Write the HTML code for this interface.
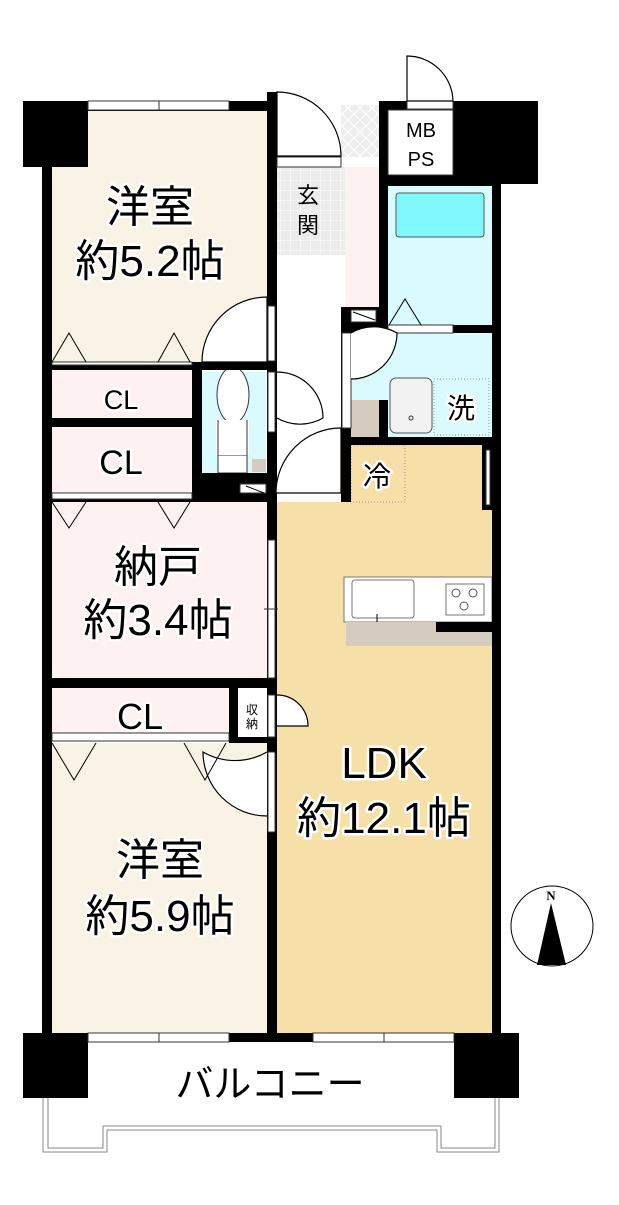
<!DOCTYPE html>
<html><head><meta charset="utf-8"><style>
html,body{margin:0;padding:0;background:#fff;}
svg{display:block}
text{font-family:"Liberation Sans","Noto Sans CJK JP",sans-serif;fill:#000;stroke:#fff;stroke-width:5px;paint-order:stroke;stroke-linejoin:round}
</style></head><body>
<svg width="619" height="1205" viewBox="0 0 619 1205" xmlns="http://www.w3.org/2000/svg">
<defs>
<pattern id="tile" width="10" height="10" patternUnits="userSpaceOnUse"><rect width="10" height="10" fill="#ececec"/><path d="M0 0H10M0 0V10" stroke="#fff" stroke-width="1"/></pattern>
<pattern id="hatch" width="12" height="12" patternUnits="userSpaceOnUse"><rect width="12" height="12" fill="#eee"/><path d="M0 0L12 12M12 0L0 12" stroke="#fff" stroke-width="1"/></pattern>
</defs>
<rect x="52" y="111" width="215" height="251" fill="#f8f3e4"/>
<rect x="52" y="370" width="140" height="48" fill="#fdf1f1"/>
<rect x="52" y="427" width="140" height="66" fill="#fdf1f1"/>
<rect x="202" y="372" width="64" height="101" fill="#d9fbfd"/>
<rect x="52" y="502" width="215" height="176" fill="#fdf1f1"/>
<rect x="52" y="688" width="177" height="45" fill="#fdf1f1"/>
<rect x="52" y="743" width="215" height="290" fill="#f8f3e4"/>
<rect x="277" y="502" width="215" height="531" fill="#f6e0a8"/>
<rect x="351" y="445" width="141" height="60" fill="#f6e0a8"/>
<rect x="351" y="445" width="54" height="57" fill="#f6e0a8" stroke="#999" stroke-dasharray="1 2" stroke-width="1"/>
<rect x="277" y="167" width="68" height="88" fill="url(#tile)"/>
<rect x="341" y="105" width="38" height="52" fill="url(#hatch)"/>
<rect x="345" y="167" width="34" height="140" fill="#fdf1f1"/>
<rect x="388" y="186" width="104" height="139" fill="#d9fbfd"/>
<rect x="396" y="193" width="88" height="44" rx="3" fill="#80f8fc" stroke="#555" stroke-width="1"/>
<rect x="351" y="333" width="141" height="104" fill="#d9fbfd"/>
<rect x="434" y="379" width="55" height="56" fill="#d9fbfd" stroke="#999" stroke-dasharray="1 2"/>
<rect x="351" y="400" width="28" height="37" fill="#d6cbbf"/>
<rect x="390" y="378" width="42" height="55" rx="6" fill="#f2f2f2" stroke="#555"/>
<circle cx="411" cy="418" r="2" fill="none" stroke="#333"/>
<rect x="344" y="577" width="148" height="45" fill="#fff" stroke="#777"/>
<rect x="352" y="580" width="62" height="38" rx="3" fill="#fff" stroke="#777"/>
<rect x="446" y="584" width="38" height="31" fill="#fff" stroke="#777"/>
<circle cx="456" cy="593" r="4" fill="none" stroke="#555"/><circle cx="473" cy="593" r="4" fill="none" stroke="#555"/><circle cx="464" cy="606" r="4" fill="none" stroke="#555"/>
<rect x="346" y="622" width="146" height="24" fill="#d6cbbf"/>
<rect x="436" y="622" width="65" height="10" fill="#000"/>
<ellipse cx="233" cy="395" rx="16" ry="28" fill="#fff" stroke="#333"/>
<rect x="218" y="455" width="29" height="18" fill="#fff" stroke="#333"/>
<rect x="216" y="420" width="33" height="35" fill="#fff" stroke="none"/>
<path d="M218 420 V455 M247 420 V455" stroke="#333"/>
<rect x="252" y="459" width="14" height="13" fill="#d6cbbf"/>
<g fill="#000">
<rect x="23" y="101" width="65" height="66"/>
<rect x="42" y="101" width="10" height="941"/>
<rect x="23" y="101" width="254" height="10"/>
<rect x="267" y="92" width="10" height="950"/>
<rect x="379" y="101" width="9" height="230"/>
<rect x="453" y="101" width="85" height="83"/>
<rect x="379" y="101" width="74" height="9"/>
<rect x="492" y="184" width="9" height="858"/>
<rect x="379" y="175" width="122" height="11"/>
<rect x="341" y="307" width="10" height="195"/>
<rect x="341" y="307" width="47" height="26"/>
<rect x="341" y="325" width="160" height="8"/>
<rect x="341" y="437" width="160" height="8"/>
<rect x="379" y="400" width="9" height="37"/>
<rect x="42" y="362" width="235" height="8"/>
<rect x="42" y="418" width="160" height="9"/>
<rect x="192" y="362" width="10" height="140"/>
<rect x="192" y="473" width="75" height="29"/>
<rect x="42" y="493" width="160" height="9"/>
<rect x="42" y="678" width="235" height="10"/>
<rect x="229" y="688" width="9" height="55"/>
<rect x="229" y="733" width="48" height="10"/>
<rect x="482" y="445" width="10" height="65"/>
<rect x="23" y="1033" width="65" height="65"/>
<rect x="454" y="1033" width="65" height="65"/>
<rect x="23" y="1033" width="496" height="9"/>
</g>
<g fill="#fff" stroke="#333" stroke-width="1">
<rect x="88" y="101" width="141" height="9"/><line x1="159" y1="101" x2="159" y2="110"/>
<rect x="88" y="1033" width="141" height="9"/><line x1="159" y1="1033" x2="159" y2="1042"/>
<rect x="313" y="1033" width="141" height="9"/><line x1="384" y1="1033" x2="384" y2="1042"/>
<rect x="277" y="157" width="64" height="10"/>
<rect x="407" y="101" width="46" height="8"/>
<rect x="388" y="110" width="65" height="65"/>
<rect x="486" y="450" width="4" height="55"/>
<rect x="268" y="540" width="7" height="138"/><line x1="264" y1="609" x2="278" y2="609"/>
<rect x="52" y="362" width="140" height="3"/>
<rect x="52" y="493" width="140" height="6"/>
<rect x="52" y="733" width="177" height="8"/>
<rect x="268" y="306" width="7" height="55"/>
<rect x="268" y="372" width="7" height="60"/>
<rect x="268" y="752" width="7" height="80"/>
<rect x="238" y="695" width="29" height="42" stroke="none"/>
<rect x="268" y="695" width="7" height="42"/>
<rect x="342" y="333" width="9" height="95"/>
<rect x="388" y="325" width="65" height="8"/>
<rect x="240" y="484" width="26" height="9"/>
<rect x="351" y="310" width="25" height="12"/>
</g>
<g fill="#fff" stroke="#000" stroke-width="1.2">
<path d="M277 92 A64 64 0 0 1 341 156 L277 156 Z"/>
<path d="M407 56 A46 46 0 0 1 453 101 L407 101 Z" />
<path d="M267 297 A65 65 0 0 0 202 362 L267 362 Z"/>
<path d="M277 372 A46 46 0 0 1 323 418 A46 46 0 0 1 277 418"/>
<path d="M341 428 A65 65 0 0 0 276 493 L341 493 Z"/>
<path d="M351 333 A46 46 0 0 1 397 333 A46 46 0 0 1 351 379"/>
<path d="M277 695 A31 31 0 0 1 308 726 L277 726"/>
<path d="M267 752 A64 64 0 0 1 203 752 A64 64 0 0 0 267 816"/>
</g>
<g fill="none" stroke="#000" stroke-width="1">
<path d="M52 362 L69 333 L86 362 M158 362 L174 333 L190 362"/>
<path d="M52 502 L69 528 L86 502 M158 502 L174 528 L190 502"/>
<path d="M52 743 L74 780 L96 743 M184 743 L205 780 L226 743"/>
<path d="M389 325 L405 299 L421 325"/>
<line x1="353" y1="312" x2="375" y2="320"/>
<line x1="246" y1="486" x2="264" y2="493"/>
<line x1="377" y1="614" x2="377" y2="622"/>
<path d="M43 1098 V1152 H107 V1130 H437 V1152 H499 V1098" stroke="#888" stroke-width="1"/>
<path d="M48 1098 V1148 H103 V1126 H441 V1148 H495 V1098" stroke="#888" stroke-width="1"/>
</g>
<ellipse cx="552" cy="926" rx="41" ry="40" fill="#fff" stroke="#000" stroke-width="1"/>
<path d="M551 903 L537 965 L566 965 Z" fill="#000"/>
<text x="551" y="900" font-size="13" text-anchor="middle" style="font-family:'Liberation Serif',serif;font-weight:bold;stroke-width:0">N</text>
<g text-anchor="middle">
<text x="150" y="222" font-size="44">洋室</text>
<text x="150" y="276" font-size="44">約5.2帖</text>
<text x="121" y="409" font-size="27">CL</text>
<text x="121" y="474" font-size="34">CL</text>
<text x="158" y="582" font-size="44">納戸</text>
<text x="158" y="635" font-size="44">約3.4帖</text>
<text x="140" y="729" font-size="36">CL</text>
<text x="252" y="714" font-size="12" style="stroke-width:0">収</text>
<text x="252" y="728" font-size="12" style="stroke-width:0">納</text>
<text x="160" y="875" font-size="44">洋室</text>
<text x="160" y="931" font-size="44">約5.9帖</text>
<text x="384" y="778" font-size="44">LDK</text>
<text x="384" y="833" font-size="44">約12.1帖</text>
<text x="308" y="203" font-size="22" style="stroke-width:0">玄</text>
<text x="308" y="233" font-size="22" style="stroke-width:0">関</text>
<text x="421" y="137" font-size="20" style="stroke-width:0">MB</text>
<text x="421" y="166" font-size="20" style="stroke-width:0">PS</text>
<text x="461" y="418" font-size="28">洗</text>
<text x="377" y="486" font-size="28">冷</text>
<text x="270" y="1097" font-size="38" style="stroke-width:0">バルコニー</text>
</g>
</svg>
</body></html>
